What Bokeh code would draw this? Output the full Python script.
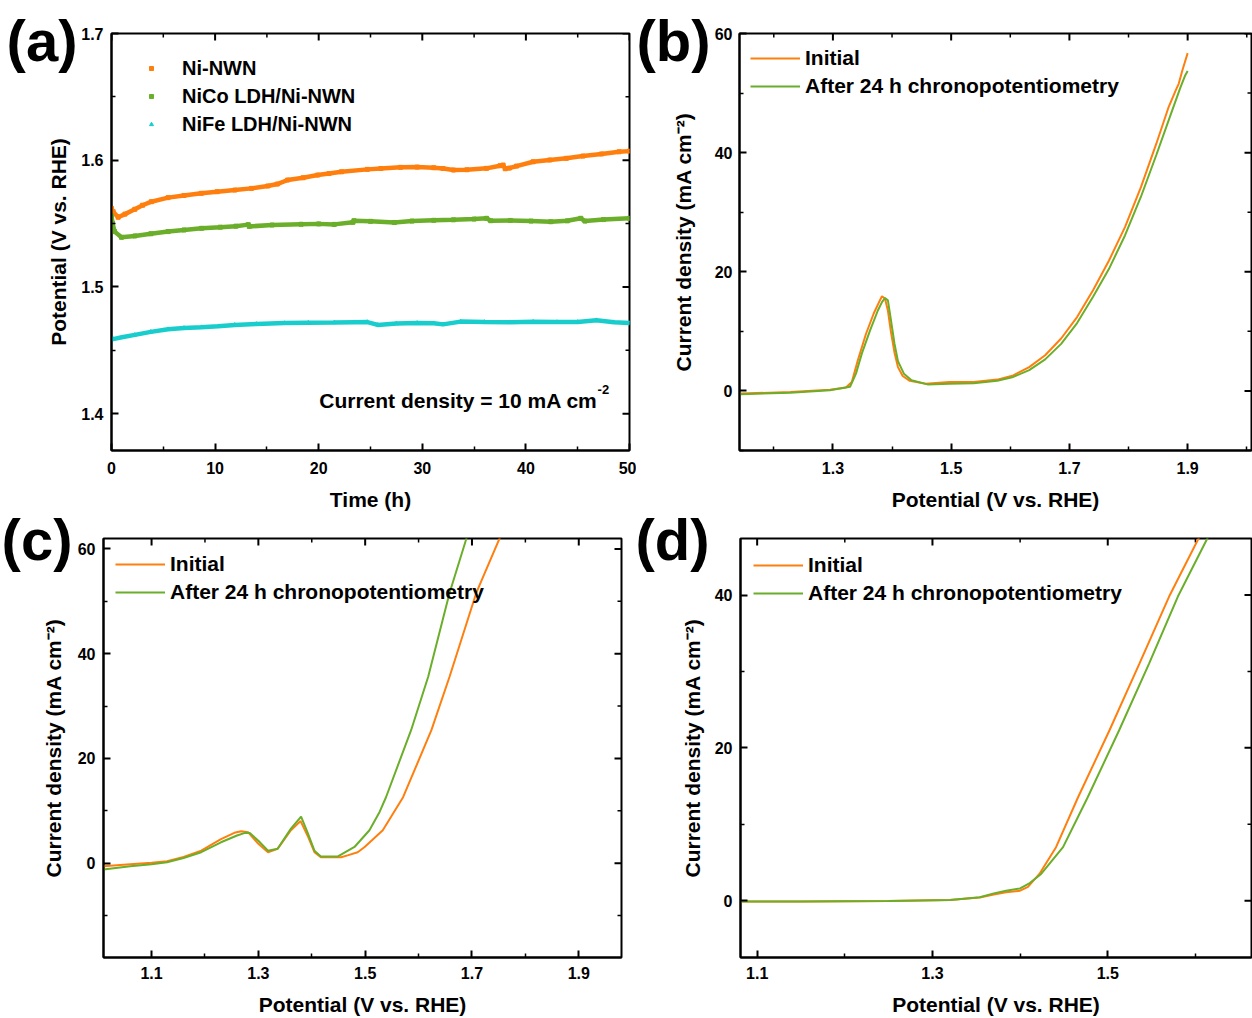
from bokeh.plotting import figure
from bokeh.models import (FixedTicker, Range1d, Label, Legend, LegendItem, PrintfTickFormatter)
from bokeh.layouts import column, row
from bokeh.embed import file_html
from bokeh.resources import INLINE

FONT = "Liberation Sans"
ORANGE = "#FF7F0E"
GREEN = "#6AAE2A"
CYAN = "#19CDCD"

# ---------------- Panel (a): chronopotentiometry ----------------
a_t_ni = [0.0, 0.16, 0.64, 1.3, 2.25, 3.0, 3.85, 5.46, 7.0, 8.67, 10.2, 11.9, 13.5, 15.09, 16.0, 17.0,
          18.5, 19.9, 21.0, 22.2, 24.7, 26.0, 27.9, 29.5, 31.1, 32.0, 33.0, 34.3, 36.2, 37.5, 37.8,
          38.0, 38.4, 39.1, 40.7, 42.3, 43.9, 45.5, 47.3, 49.0, 50.0]
a_v_ni = [1.5620, 1.5594, 1.5550, 1.5575, 1.5613, 1.5645, 1.5673, 1.5705, 1.5722, 1.5739, 1.5752,
          1.5765, 1.5778, 1.5797, 1.5812, 1.5844, 1.5862, 1.5883, 1.5895, 1.5909, 1.5928, 1.5935,
          1.5944, 1.5946, 1.5941, 1.5935, 1.5923, 1.5925, 1.5936, 1.5957, 1.5962, 1.5933, 1.5938,
          1.5954, 1.5988, 1.6002, 1.6015, 1.6033, 1.6050, 1.6067, 1.6072]

a_t_nico = [0.0, 0.1, 0.3, 0.96, 2.25, 3.8, 5.46, 7.0, 8.7, 10.5, 12.0, 13.2, 13.3, 15.5, 18.3, 20.0,
            21.5, 23.3, 23.4, 25.0, 27.3, 29.0, 31.1, 33.0, 35.0, 36.2, 36.6, 38.5, 40.5, 42.4, 44.0,
            45.3, 45.7, 47.5, 50.0]
a_v_nico = [1.5560, 1.5503, 1.5437, 1.5392, 1.5403, 1.5420, 1.5437, 1.5450, 1.5463, 1.5472, 1.5480,
            1.5492, 1.5478, 1.5489, 1.5495, 1.5498, 1.5494, 1.5510, 1.5523, 1.5518, 1.5509, 1.5520,
            1.5526, 1.5530, 1.5536, 1.5542, 1.5523, 1.5525, 1.5520, 1.5515, 1.5522, 1.5542, 1.5520,
            1.5532, 1.5542]

a_t_nife = [0.0, 0.16, 1.0, 2.25, 3.8, 5.46, 7.0, 8.67, 10.3, 11.9, 14.0, 16.7, 19.0, 21.5, 23.5,
            24.7, 25.7, 27.5, 29.5, 31.1, 32.0, 33.7, 36.0, 38.5, 40.7, 43.0, 45.0, 46.8, 48.5, 50.0]
a_v_nife = [1.4592, 1.4589, 1.4603, 1.4622, 1.4646, 1.4667, 1.4677, 1.4683, 1.4690, 1.4701, 1.4708,
            1.4715, 1.4718, 1.4720, 1.4722, 1.4723, 1.4701, 1.4712, 1.4716, 1.4714, 1.4705, 1.4727,
            1.4724, 1.4722, 1.4725, 1.4723, 1.4724, 1.4738, 1.4722, 1.4715]

# ---------------- Panel (b) ----------------
b_e_init = [1.144, 1.228, 1.295, 1.322, 1.332, 1.342, 1.356, 1.369, 1.378, 1.383, 1.388, 1.393,
            1.398, 1.404, 1.410, 1.418, 1.430, 1.457, 1.497, 1.538, 1.578, 1.605, 1.632, 1.659,
            1.686, 1.713, 1.740, 1.767, 1.794, 1.821, 1.847, 1.868, 1.880, 1.885, 1.891, 1.900]
b_j_init = [-0.45, -0.17, 0.2, 0.56, 1.5, 5.1, 9.6, 13.0, 14.9, 15.9, 15.5, 13.5, 10.0, 6.5, 4.0,
            2.5, 1.7, 1.2, 1.5, 1.5, 1.9, 2.6, 4.0, 6.0, 8.8, 12.4, 16.9, 21.9, 27.5, 34.2, 41.5,
            47.7, 50.5, 51.6, 53.8, 56.7]
b_e_aft = [1.144, 1.228, 1.295, 1.329, 1.339, 1.349, 1.363, 1.376, 1.383, 1.388, 1.393, 1.398,
           1.404, 1.410, 1.420, 1.433, 1.460, 1.497, 1.538, 1.578, 1.605, 1.632, 1.659, 1.686,
           1.713, 1.740, 1.767, 1.794, 1.821, 1.847, 1.871, 1.888, 1.896, 1.900]
b_j_aft = [-0.55, -0.3, 0.1, 0.7, 2.9, 6.3, 10.2, 13.5, 14.9, 15.6, 15.2, 12.0, 8.0, 5.0, 2.9,
           1.8, 1.1, 1.2, 1.3, 1.7, 2.35, 3.5, 5.3, 7.9, 11.4, 15.8, 20.5, 26.1, 32.6, 39.6, 46.3,
           51.0, 53.0, 53.7]

# ---------------- Panel (c) ----------------
c_e_init = [1.010, 1.060, 1.100, 1.129, 1.160, 1.193, 1.230, 1.255, 1.268, 1.281, 1.300, 1.318,
            1.336, 1.361, 1.379, 1.392, 1.405, 1.417, 1.455, 1.467, 1.486, 1.499, 1.533, 1.571,
            1.624, 1.658, 1.708, 1.760]
c_j_init = [-0.57, -0.2, 0.1, 0.38, 1.2, 2.4, 4.6, 5.8, 6.1, 5.9, 3.7, 2.1, 2.75, 6.3, 8.05, 5.3,
            2.1, 1.15, 1.15, 1.5, 2.1, 3.1, 6.3, 12.6, 25.4, 35.6, 51.6, 64.0]
c_e_aft = [1.010, 1.060, 1.100, 1.129, 1.160, 1.193, 1.230, 1.260, 1.275, 1.284, 1.300, 1.318,
           1.336, 1.361, 1.380, 1.392, 1.405, 1.417, 1.449, 1.480, 1.508, 1.527, 1.539, 1.586,
           1.618, 1.658, 1.689, 1.695]
c_j_aft = [-1.2, -0.6, -0.2, 0.2, 1.0, 2.1, 4.0, 5.3, 5.8, 5.75, 4.3, 2.4, 2.75, 6.6, 8.9, 5.9,
           2.4, 1.3, 1.3, 3.1, 6.3, 9.8, 12.6, 25.4, 35.6, 51.6, 61.8, 64.0]

# ---------------- Panel (d) ----------------
d_e_init = [1.081, 1.150, 1.250, 1.320, 1.354, 1.370, 1.384, 1.400, 1.409, 1.422, 1.441, 1.466,
            1.502, 1.536, 1.570, 1.604, 1.612]
d_j_init = [-0.1, -0.1, -0.05, 0.1, 0.4, 0.8, 1.1, 1.3, 1.8, 3.5, 7.0, 13.5, 22.3, 31.0, 39.8,
            47.5, 49.5]
d_e_aft = [1.081, 1.150, 1.250, 1.320, 1.354, 1.370, 1.384, 1.400, 1.411, 1.424, 1.449, 1.477,
           1.513, 1.547, 1.580, 1.614, 1.622]
d_j_aft = [-0.1, -0.1, -0.05, 0.1, 0.45, 0.95, 1.3, 1.6, 2.3, 3.5, 7.0, 13.5, 22.3, 31.0, 39.8,
           47.5, 49.5]

LEGEND_LSV = ["Initial", "After 24 h chronopotentiometry"]
LEGEND_A = ["Ni-NWN", "NiCo LDH/Ni-NWN", "NiFe LDH/Ni-NWN"]
XLAB_E = "Potential (V vs. RHE)"
YLAB_J = "Current density (mA cm\u207b\u00b2)"
YLAB_A = "Potential (V vs. RHE)"


def make_panel(width, height, bl, br, bt, bb, xr, yr, xt, xm, yt, ym, xlabel,
               fmt_x, fmt_y, xstand, xlstand, ystand, clear_border=False):
    p = figure(width=width, height=height, x_range=Range1d(*xr), y_range=Range1d(*yr),
               output_backend="svg", toolbar_location=None,
               min_border_left=bl, min_border_right=br, min_border_top=bt, min_border_bottom=bb)
    p.grid.visible = False
    p.outline_line_color = "black"
    p.outline_line_width = 2
    p.background_fill_color = "white"
    p.border_fill_color = "white"
    if clear_border:
        p.border_fill_alpha = 0
    for ax, ticks, minor, fmt in ((p.xaxis[0], xt, xm, fmt_x), (p.yaxis[0], yt, ym, fmt_y)):
        ax.ticker = FixedTicker(ticks=ticks, minor_ticks=minor)
        ax.formatter = PrintfTickFormatter(format=fmt)
        ax.axis_line_width = 2
        ax.major_tick_line_width = 2
        ax.minor_tick_line_width = 1.5
        ax.major_tick_in = 7
        ax.major_tick_out = 0
        ax.minor_tick_in = 4
        ax.minor_tick_out = 0
        ax.major_label_text_font = FONT
        ax.major_label_text_font_style = "bold"
        ax.major_label_text_font_size = "16px"
        ax.major_label_text_color = "black"
        ax.axis_label_text_font = FONT
        ax.axis_label_text_font_style = "bold"
        ax.axis_label_text_font_size = "21px"
        ax.axis_label_text_color = "black"
    p.xaxis[0].axis_label = xlabel
    p.xaxis[0].major_label_standoff = xstand
    p.xaxis[0].axis_label_standoff = xlstand
    p.yaxis[0].major_label_standoff = ystand
    # mirrored inward ticks on the top and right frame edges
    fw = width - bl - br
    fh = height - bt - bb
    dx = (xr[1] - xr[0]) / fw
    dy = (yr[1] - yr[0]) / fh
    for ticks, ln, lw in ((xt, 7, 2), (xm, 4, 1.5)):
        p.segment(x0=ticks, x1=ticks, y0=[yr[1]] * len(ticks), y1=[yr[1] - ln * dy] * len(ticks),
                  line_color="black", line_width=lw)
    for ticks, ln, lw in ((yt, 7, 2), (ym, 4, 1.5)):
        p.segment(x0=[xr[1]] * len(ticks), x1=[xr[1] - ln * dx] * len(ticks), y0=ticks, y1=ticks,
                  line_color="black", line_width=lw)
    return p


def gutter(width, height, bl, bt, bb, letter_dy, letter, ylabel, als, clear_border=False):
    """Narrow strip left of a panel.  The panel letter is the single tick label of its left
    axis (drawn in the border, so not clipped) and the vertical axis title is that axis' label."""
    fh = height - bt - bb
    g = figure(width=width, height=height, x_range=Range1d(0, 1),
               y_range=Range1d(-(fh - letter_dy), letter_dy),
               x_axis_type=None, toolbar_location=None, output_backend="svg",
               min_border_left=bl, min_border_right=0, min_border_top=bt, min_border_bottom=bb)
    g.outline_line_color = None
    g.grid.visible = False
    g.background_fill_color = "white"
    g.border_fill_color = "white"
    if clear_border:
        g.border_fill_alpha = 0
        g.background_fill_alpha = 0
    ax = g.yaxis[0]
    ax.ticker = FixedTicker(ticks=[0], minor_ticks=[])
    ax.major_label_overrides = {0: letter}
    ax.axis_line_color = None
    ax.major_tick_line_color = None
    ax.minor_tick_line_color = None
    ax.major_tick_in = 0
    ax.major_tick_out = 0
    ax.minor_tick_in = 0
    ax.minor_tick_out = 0
    ax.major_label_standoff = 0
    ax.major_label_text_font = FONT
    ax.major_label_text_font_style = "bold"
    ax.major_label_text_font_size = "58px"
    ax.major_label_text_color = "black"
    ax.axis_label = ylabel
    ax.axis_label_standoff = als
    ax.axis_label_text_font = FONT
    ax.axis_label_text_font_style = "bold"
    ax.axis_label_text_font_size = "21px"
    ax.axis_label_text_color = "black"
    return g


def to_data(p, bl, bt, fw, fh, sx, sy):
    x0, x1 = p.x_range.start, p.x_range.end
    y0, y1 = p.y_range.start, p.y_range.end
    return x0 + (sx - bl) / fw * (x1 - x0), y1 - (sy - bt) / fh * (y1 - y0)


def lsv_legend(p, r1, r2, marg):
    leg = Legend(items=[LegendItem(label=LEGEND_LSV[0], renderers=[r1]),
                        LegendItem(label=LEGEND_LSV[1], renderers=[r2])],
                 location="top_left", margin=marg, padding=0, spacing=0,
                 glyph_width=50, glyph_height=28, label_height=28, label_standoff=5,
                 label_text_font=FONT, label_text_font_style="bold", label_text_font_size="21px",
                 label_text_color="black", border_line_color=None, background_fill_alpha=0)
    p.add_layout(leg)


# top row: height 513 (border top 33, frame 417, bottom 63)
# bottom row: pulled up by 22 px, height 527 (border top 47, frame 419, bottom 61)

# ---------- (a) ----------
gA = gutter(78, 513, 77, 33, 63, 7, "(a)", YLAB_A, -66)
pa = make_panel(558, 513, 32, 7, 33, 63, (0, 50), (1.371, 1.7),
                [0, 10, 20, 30, 40, 50], [5, 15, 25, 35, 45],
                [1.4, 1.5, 1.6, 1.7], [1.45, 1.55, 1.65],
                "Time (h)", "%d", "%.1f", 11, 11, 8)
ga = (32, 33, 519, 417)
rs = []
for t, v, c, mk in ((a_t_ni, a_v_ni, ORANGE, "square"), (a_t_nico, a_v_nico, GREEN, "square"),
                    (a_t_nife, a_v_nife, CYAN, "triangle")):
    pa.line(t, v, line_color=c, line_width=4.5)
    rs.append(pa.scatter(t, v, marker=mk, size=4, color=c))
leg_a = Legend(items=[LegendItem(label=l, renderers=[r]) for l, r in zip(LEGEND_A, rs)],
               location="top_left", margin=21, padding=0, spacing=0,
               glyph_width=38, glyph_height=10, label_height=28, label_standoff=12,
               label_text_font=FONT, label_text_font_style="bold", label_text_font_size="20px",
               label_text_color="black", border_line_color=None, background_fill_alpha=0)
pa.add_layout(leg_a)
xl, yl = to_data(pa, *ga, 519, 400)
pa.add_layout(Label(x=xl, y=yl, text="Current density = 10 mA cm", text_font=FONT,
                    text_font_style="bold", text_font_size="21px", text_color="black",
                    text_align="right", text_baseline="alphabetic"))
pa.add_layout(Label(x=xl, y=to_data(pa, *ga, 519, 389)[1], text="-2", text_font=FONT,
                    text_font_style="bold", text_font_size="13px", text_color="black",
                    text_align="left", text_baseline="alphabetic"))

# ---------- (b) ----------
gB = gutter(75, 513, 74, 33, 63, 7, "(b)", YLAB_J, -62)
pb = make_panel(541, 513, 27, 1, 33, 63, (1.142, 2.008), (-10, 60),
                [1.1, 1.3, 1.5, 1.7, 1.9], [1.2, 1.4, 1.6, 1.8, 2.0],
                [0, 20, 40, 60], [-10, 10, 30, 50],
                XLAB_E, "%.1f", "%d", 11, 11, 7)
r1 = pb.line(b_e_init, b_j_init, line_color=ORANGE, line_width=2)
r2 = pb.line(b_e_aft, b_j_aft, line_color=GREEN, line_width=2)
lsv_legend(pb, r1, r2, 11)

# ---------- (c) ----------
gC = gutter(73, 527, 72, 47, 61, 1, "(c)", YLAB_J, -66, clear_border=True)
pc = make_panel(563, 527, 30, 15, 47, 61, (1.01, 1.98), (-18, 62),
                [1.1, 1.3, 1.5, 1.7, 1.9], [1.2, 1.4, 1.6, 1.8],
                [0, 20, 40, 60], [-10, 10, 30, 50],
                XLAB_E, "%.1f", "%d", 9, 11, 8, clear_border=True)
r1 = pc.line(c_e_init, c_j_init, line_color=ORANGE, line_width=2)
r2 = pc.line(c_e_aft, c_j_aft, line_color=GREEN, line_width=2)
lsv_legend(pc, r1, r2, 12)

# ---------- (d) ----------
gD = gutter(74, 527, 73, 47, 61, 1, "(d)", YLAB_J, -72, clear_border=True)
pd = make_panel(542, 527, 30, 1, 47, 61, (1.081, 1.664), (-7.44, 47.4),
                [1.1, 1.3, 1.5], [1.2, 1.4, 1.6],
                [0, 20, 40], [10, 30],
                XLAB_E, "%.1f", "%d", 9, 11, 8, clear_border=True)
r1 = pd.line(d_e_init, d_j_init, line_color=ORANGE, line_width=2)
r2 = pd.line(d_e_aft, d_j_aft, line_color=GREEN, line_width=2)
lsv_legend(pd, r1, r2, 13)

layout = column(row(gA, pa, gB, pb), row(gC, pc, gD, pd, margin=(-22, 0, 0, 0)))
open("out.html", "w").write(file_html(layout, INLINE))
